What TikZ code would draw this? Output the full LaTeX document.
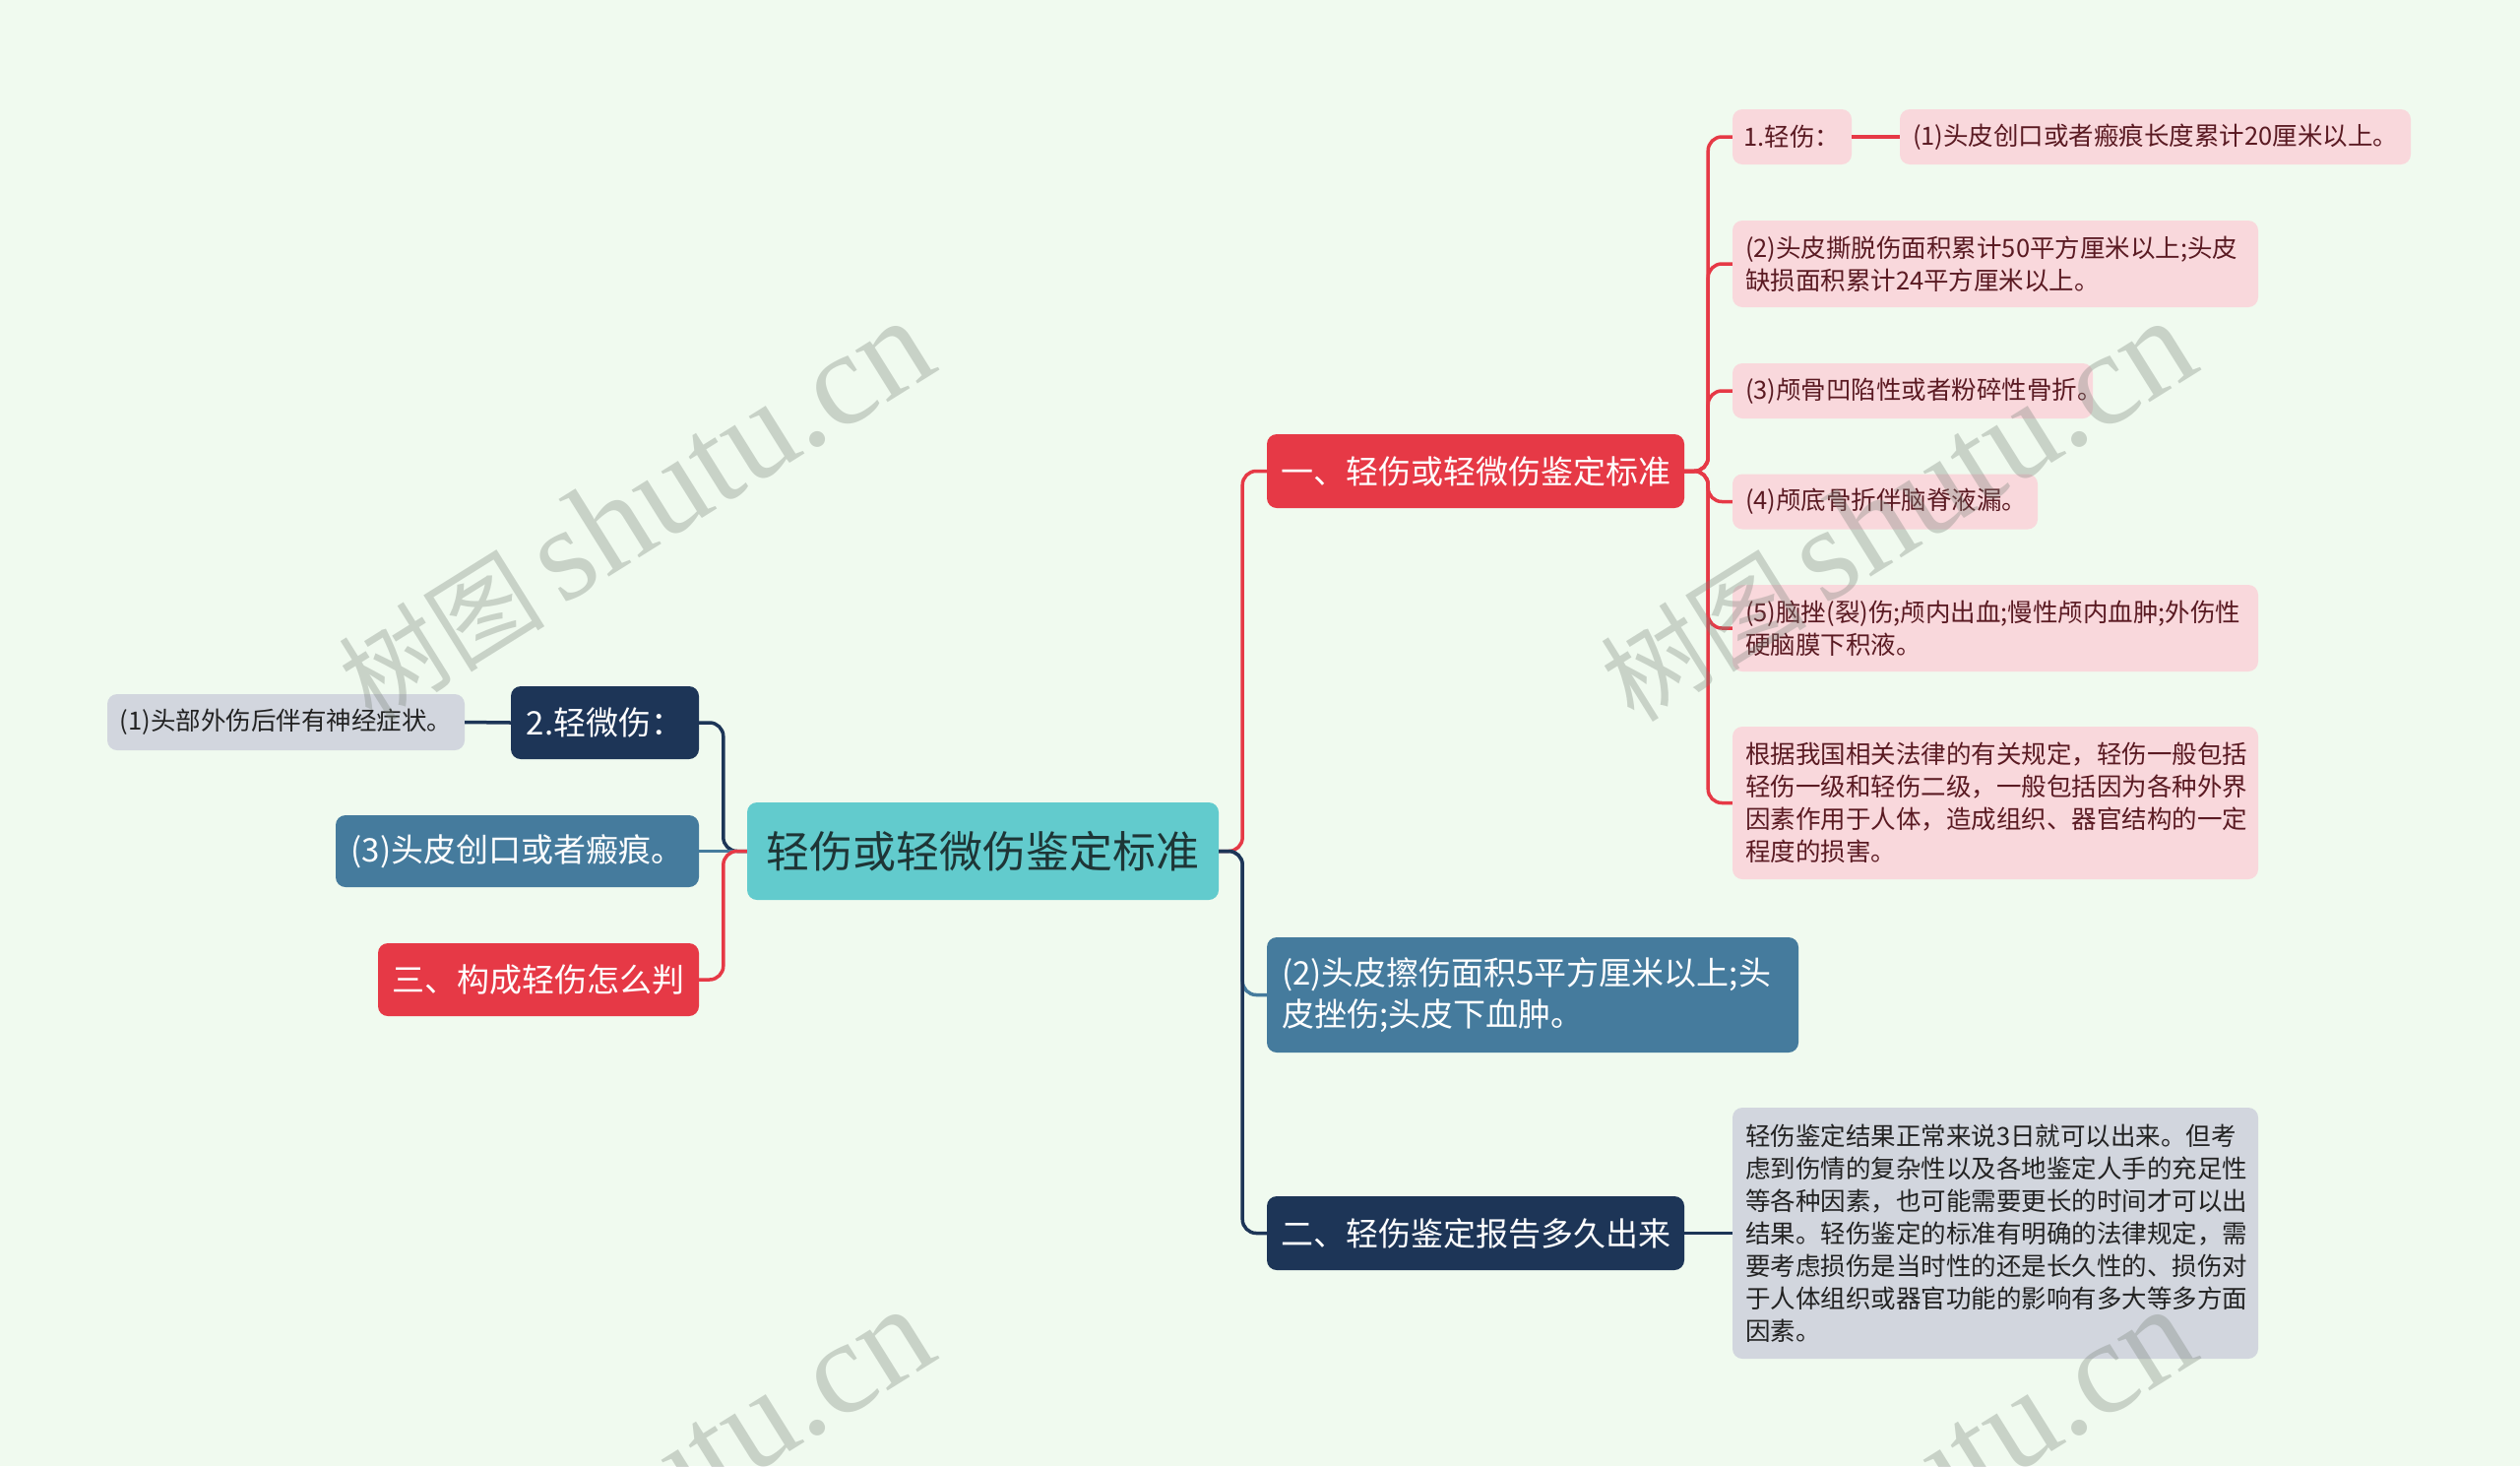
\documentclass[tikz,border=0pt]{standalone}
\usepackage{fontspec}
\setmainfont{Noto Sans CJK SC}
\newfontfamily\wmfont{Liberation Serif}
\definecolor{cbg}{HTML}{F0FAEF}
\definecolor{cteal}{HTML}{62CBCD}
\definecolor{croottext}{HTML}{1E3536}
\definecolor{cred}{HTML}{E63946}
\definecolor{cnavy}{HTML}{1D3557}
\definecolor{csteel}{HTML}{457B9D}
\definecolor{cpink}{HTML}{F9D8DC}
\definecolor{cpinktext}{HTML}{5A1A22}
\definecolor{cgray}{HTML}{D2D6DE}
\definecolor{cgraytext}{HTML}{222222}
\definecolor{cwm}{HTML}{788278}
\begin{document}
\begin{tikzpicture}[x=1pt,y=-1pt,
  box/.style={rounded corners=10pt, inner sep=0pt, align=center},
  rootbox/.style={box, fill=cteal, text=croottext, font=\fontsize{44}{52}\selectfont, minimum width=479, minimum height=99},
  lone/.style={box, text=white, font=\fontsize{33}{42}\selectfont, minimum height=74},
  leafp/.style={box, fill=cpink, text=cpinktext, font=\fontsize{25.5}{33}\selectfont, minimum height=56},
  leafg/.style={box, fill=cgray, text=cgraytext, font=\fontsize{25.5}{33}\selectfont, minimum height=56},
  conn/.style={line width=3.5pt, rounded corners=14pt},
  wm/.style={rotate=32, text=cwm, text opacity=0.33, inner sep=0pt}
]
\useasboundingbox (0,0) rectangle (2560,1489);
\fill[cbg] (0,0) rectangle (2560,1489);

% root
\node[rootbox] (root) at (998.5,864.5) {轻伤或轻微伤鉴定标准};

% right level 1
\node[lone, fill=cred, minimum width=424, minimum height=75] (r1) at (1499,478.5) {一、轻伤或轻微伤鉴定标准};
\node[lone, fill=csteel, minimum width=540, minimum height=117, text width=510, align=left] (r2) at (1557,1010.5) {(2)头皮擦伤面积5平方厘米以上;头\\皮挫伤;头皮下血肿。};
\node[lone, fill=cnavy, minimum width=424, minimum height=75] (r3) at (1499,1252.5) {二、轻伤鉴定报告多久出来};

% left level 1
\node[lone, fill=cnavy, minimum width=191, minimum height=74] (n2) at (614.5,734) {2.轻微伤：};
\node[leafg, minimum width=363, minimum height=57] (n1) at (290.5,733.5) {(1)头部外伤后伴有神经症状。};
\node[lone, fill=csteel, minimum width=369, minimum height=73] (n3) at (525.5,864.5) {(3)头皮创口或者瘢痕。};
\node[lone, fill=cred, minimum width=326, minimum height=74] (n4) at (547,995) {三、构成轻伤怎么判};

% right leaves
\node[leafp, minimum width=121] (a1) at (1820.5,139) {1.轻伤：};
\node[leafp, minimum width=519, text width=493, align=left] (a1b) at (2189.5,139) {(1)头皮创口或者瘢痕长度累计20厘米以上。};
\node[leafp, minimum width=534, minimum height=88, text width=508, align=left] (a2) at (2027,268) {(2)头皮撕脱伤面积累计50平方厘米以上;头皮\\缺损面积累计24平方厘米以上。};
\node[leafp, minimum width=366, text width=340, align=left] (a3) at (1943,397) {(3)颅骨凹陷性或者粉碎性骨折。};
\node[leafp, minimum width=310, text width=284, align=left] (a4) at (1915,509.5) {(4)颅底骨折伴脑脊液漏。};
\node[leafp, minimum width=534, minimum height=88, text width=508, align=left] (a5) at (2027,638) {(5)脑挫(裂)伤;颅内出血;慢性颅内血肿;外伤性\\硬脑膜下积液。};
\node[leafp, minimum width=534, minimum height=155, text width=508, align=left] (a6) at (2027,815.5) {根据我国相关法律的有关规定，轻伤一般包括\\轻伤一级和轻伤二级，一般包括因为各种外界\\因素作用于人体，造成组织、器官结构的一定\\程度的损害。};
\node[leafg, minimum width=534, minimum height=255, text width=508, align=left] (g1) at (2027,1252.5) {轻伤鉴定结果正常来说3日就可以出来。但考\\虑到伤情的复杂性以及各地鉴定人手的充足性\\等各种因素，也可能需要更长的时间才可以出\\结果。轻伤鉴定的标准有明确的法律规定，需\\要考虑损伤是当时性的还是长久性的、损伤对\\于人体组织或器官功能的影响有多大等多方面\\因素。};

% connectors
\draw[conn, cred] (root.east) -- ++(24,0) |- (r1.west);
\draw[conn, csteel] (root.east) -- ++(24,0) |- (r2.west);
\draw[conn, cnavy] (root.east) -- ++(24,0) |- (r3.west);
\draw[conn, cnavy] (root.west) -- ++(-24,0) |- (n2.east);
\draw[conn, csteel] (root.west) -- (n3.east);
\draw[conn, cred] (root.west) -- ++(-24,0) |- (n4.east);
\foreach \a in {a1,a2,a3,a4,a5,a6} {
  \draw[conn, cred] (r1.east) -- ++(24,0) |- (\a.west);
}
\draw[conn, cred] (a1.east) -- (a1b.west);
\draw[conn, cnavy] (n2.west) -- (n1.east);
\draw[conn, cnavy] (r3.east) -- (g1.west);

% watermarks
\node[wm] (w1) at (645,519) {\fontsize{105}{110}\selectfont 树图\,{\wmfont\fontsize{135}{140}\selectfont shutu.cn}};
\node[wm] (w2) at (1927,519) {\fontsize{105}{110}\selectfont 树图\,{\wmfont\fontsize{135}{140}\selectfont shutu.cn}};
\node[wm] (w3) at (645,1523) {\fontsize{105}{110}\selectfont 树图\,{\wmfont\fontsize{135}{140}\selectfont shutu.cn}};
\node[wm] (w4) at (1927,1523) {\fontsize{105}{110}\selectfont 树图\,{\wmfont\fontsize{135}{140}\selectfont shutu.cn}};
\end{tikzpicture}
\end{document}
